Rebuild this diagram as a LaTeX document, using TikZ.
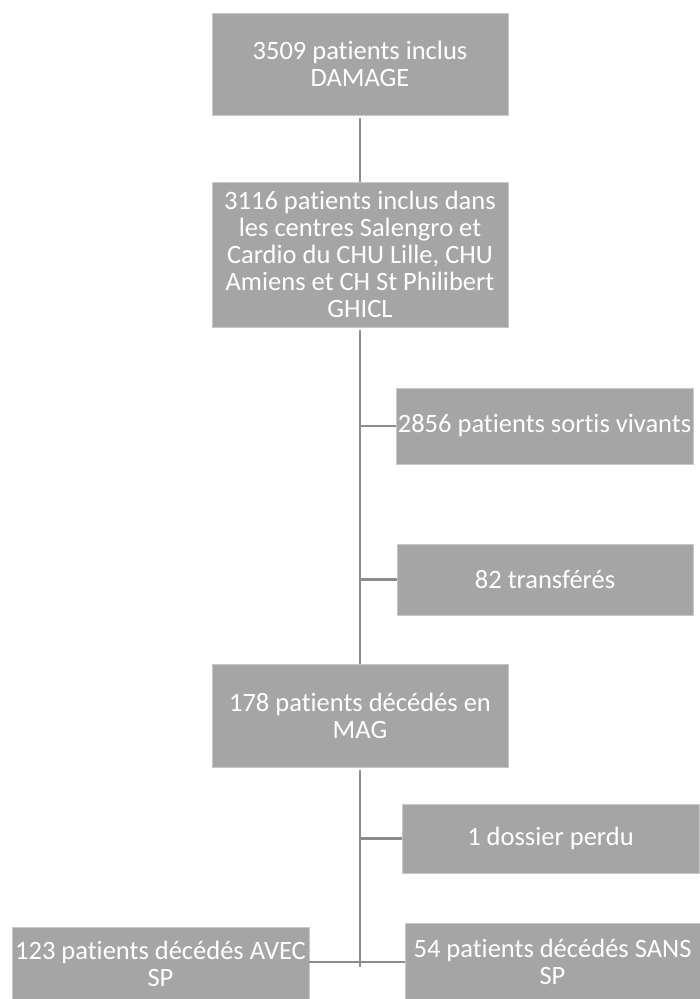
\documentclass[tikz,border=0pt]{standalone}
\usepackage{fontspec}
\setmainfont[Ligatures=CommonOff]{Carlito}
\definecolor{boxfill}{HTML}{A5A5A5}
\definecolor{boxedge}{HTML}{C8C8C8}
\definecolor{linec}{HTML}{8C8C8C}
\begin{document}
\begin{tikzpicture}[x=1pt,y=-1pt,
  box/.style={rectangle,fill=boxfill,draw=boxedge,line width=0.8pt,text=white,align=center,inner sep=0pt,
    font=\fontsize{26.5pt}{27pt}\selectfont},
  conn/.style={draw=linec,line width=2.5pt}]
\useasboundingbox (0,0) rectangle (700,999);
\begin{scope}
\clip (0,0) rectangle (700,999);
\node[box,minimum width=296pt,minimum height=102pt] (b1) at (360,64) {3509 patients inclus\\DAMAGE};
\node[box,minimum width=296pt,minimum height=145pt] (b2) at (360,254.5) {3116 patients inclus dans\\les centres Salengro et\\Cardio du CHU Lille, CHU\\Amiens et CH St Philibert\\GHICL};
\node[box,minimum width=297pt,minimum height=76pt] (b2856) at (544.5,426) {2856 patients sortis vivants};
\node[box,minimum width=296pt,minimum height=71pt] (b82) at (545,579.5) {82 transférés};
\node[box,minimum width=296pt,minimum height=103pt] (b3) at (360,715.5) {178 patients décédés en\\MAG};
\node[box,minimum width=297pt,minimum height=69pt] (bdp) at (550.5,838.5) {1 dossier perdu};
\node[box,minimum width=297pt,minimum height=74pt] (b123) at (160.5,964) {123 patients décédés AVEC\\SP};
\node[box,minimum width=295pt,minimum height=78pt] (b54) at (552.5,962) {54 patients décédés SANS\\SP};
\coordinate (bot) at (360,967);
\draw[conn] ([yshift=-3pt]b1.south) -- (b2.north);
\draw[conn] ([yshift=-3pt]b2.south) -- (b3.north);
\draw[conn] (b2856.west) -- (b2856.west -| b2.south);
\draw[conn] (b82.west) -- (b82.west -| b2.south);
\draw[conn] ([yshift=-3pt]b3.south) -- (bot);
\draw[conn] (bdp.west) -- (bdp.west -| bot);
\draw[conn] ([yshift=2pt]b123.east) -- ([yshift=2pt]b123.east -| bot);
\draw[conn] (b54.west) -- (b54.west -| bot);
\end{scope}
\end{tikzpicture}
\end{document}
